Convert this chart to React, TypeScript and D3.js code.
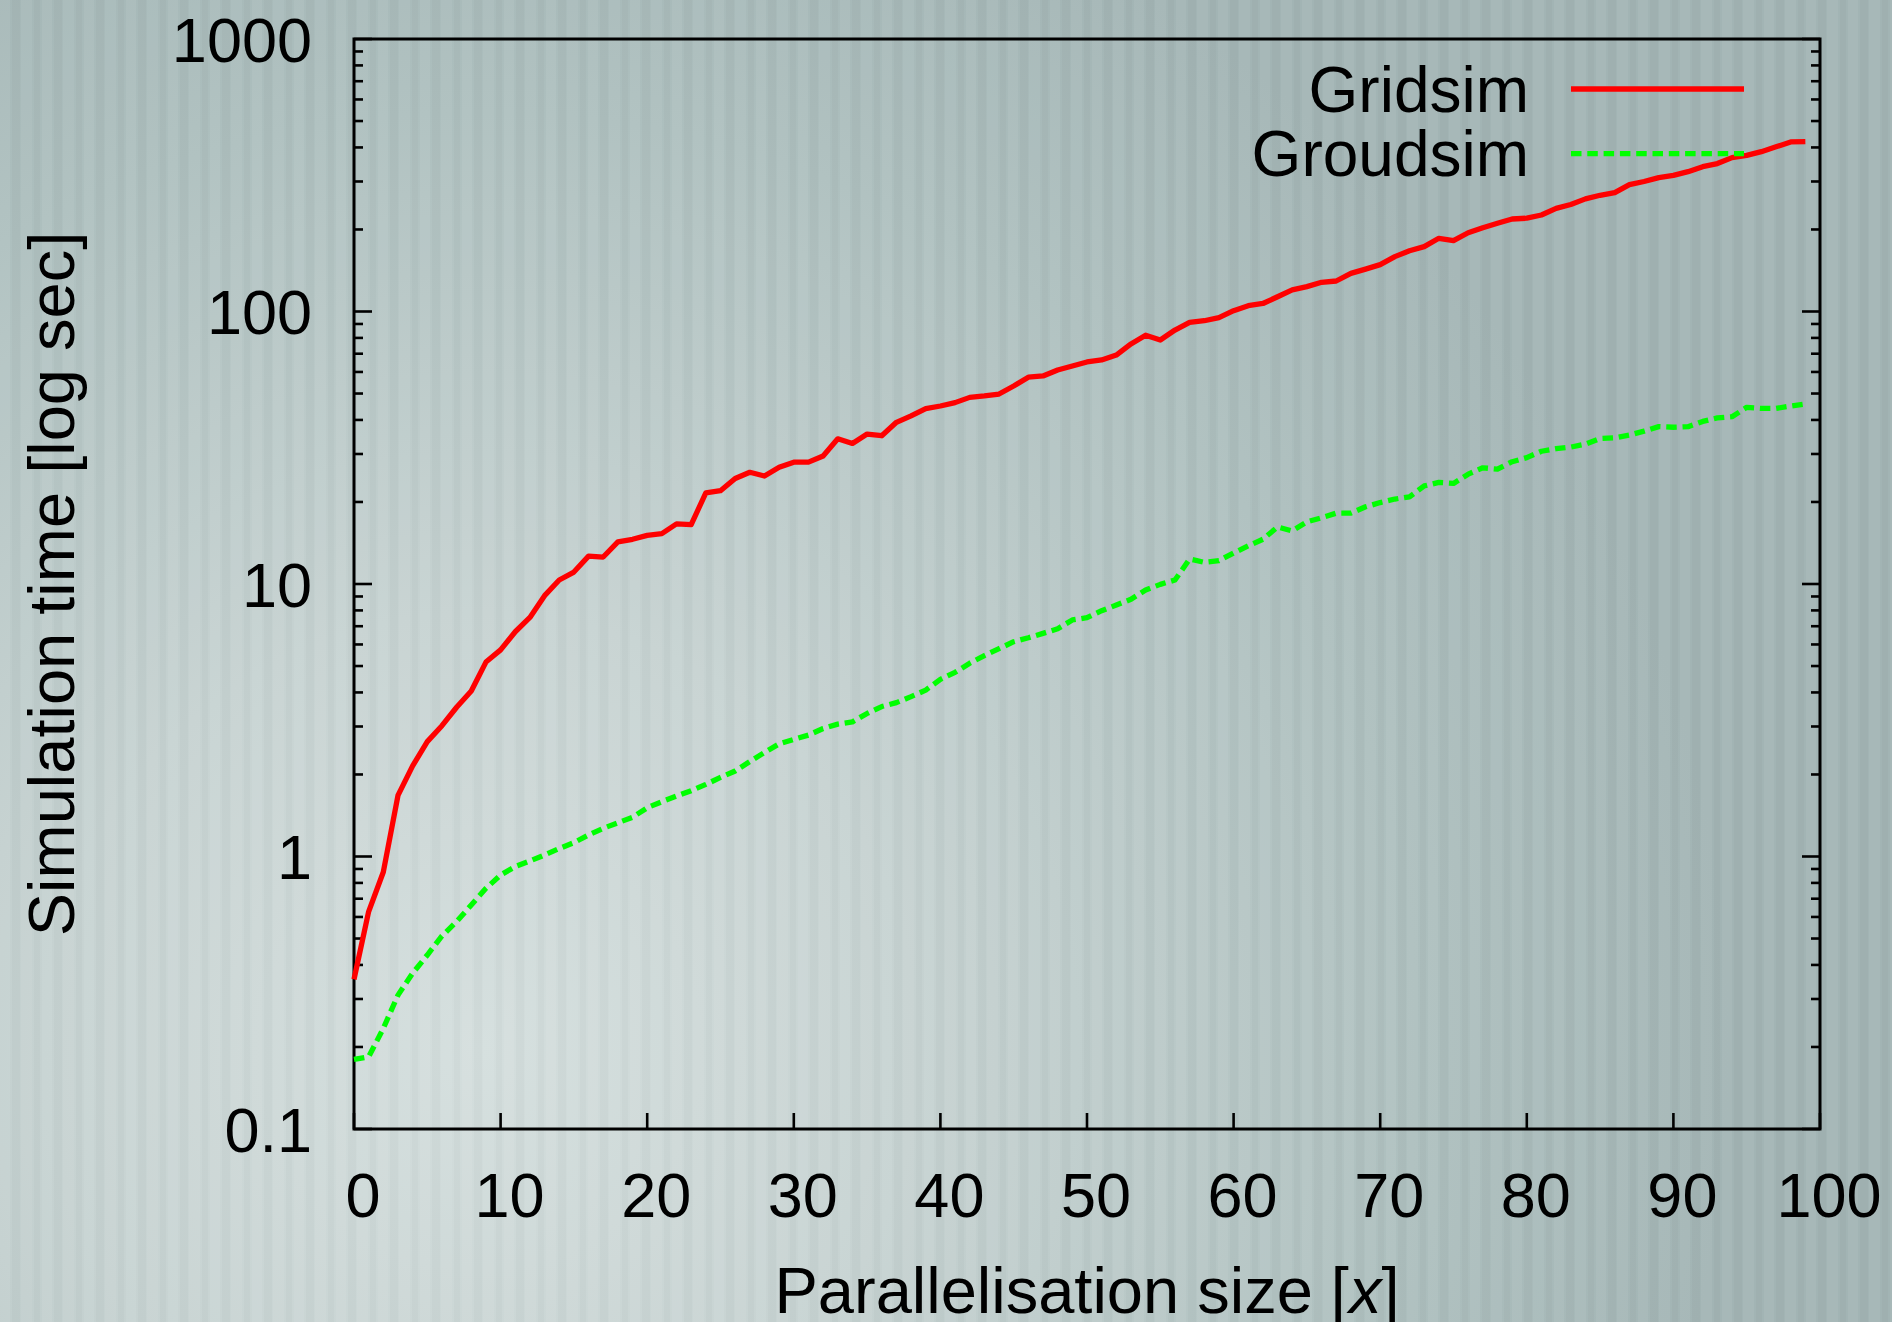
import React from 'react';
import * as d3 from 'd3';

const W = 1892;
const H = 1322;

// x = parallelisation size 0..99
const sizes = d3.range(0, 100);

const gridsim = [
    0.354, 0.628, 0.877, 1.676, 2.15, 2.64, 3.02, 3.53, 4.05, 5.17,
    5.73, 6.68, 7.54, 9.06, 10.34, 11.06, 12.66, 12.56, 14.28, 14.59,
    15.08, 15.31, 16.62, 16.52, 21.6, 22.0, 24.4, 25.7, 24.9, 26.8,
    28.0, 28.0, 29.5, 34.1, 32.8, 35.5, 35.0, 39.2, 41.4, 44.0,
    45.0, 46.3, 48.4, 49.0, 49.8, 53.3, 57.4, 58.0, 61.0, 63.1,
    65.3, 66.4, 69.2, 76.0, 81.8, 78.6, 85.5, 91.2, 92.5, 95.0,
    100.7, 105, 107, 113.3, 120, 123.4, 128, 129.4, 138, 143,
    148.6, 159, 167, 173, 185.6, 182, 194.5, 203, 210.7, 218.5,
    220, 226, 239, 247, 259, 267, 273, 292, 300, 310,
    316, 326, 340, 349, 367, 374, 386, 402, 419, 420,
];

const groudsim = [
    0.18, 0.184, 0.234, 0.31, 0.373, 0.435, 0.511, 0.577, 0.664, 0.764,
    0.855, 0.918, 0.963, 1.013, 1.07, 1.124, 1.2, 1.269, 1.33, 1.393,
    1.51, 1.589, 1.667, 1.744, 1.84, 1.95, 2.06, 2.23, 2.41, 2.59,
    2.69, 2.79, 2.95, 3.06, 3.12, 3.35, 3.55, 3.67, 3.86, 4.08,
    4.47, 4.74, 5.12, 5.46, 5.79, 6.14, 6.35, 6.59, 6.85, 7.38,
    7.52, 7.98, 8.37, 8.79, 9.51, 9.97, 10.34, 12.35, 12.01, 12.18,
    13.0, 13.8, 14.6, 16.2, 15.65, 16.9, 17.5, 18.2, 18.2, 19.2,
    19.9, 20.5, 20.9, 22.9, 23.6, 23.4, 25.3, 26.7, 26.4, 28.1,
    29.1, 30.7, 31.4, 31.8, 32.6, 34.2, 34.4, 35.2, 36.4, 37.8,
    37.6, 37.8, 39.5, 40.7, 41.1, 44.5, 44.1, 44.1, 45.0, 45.8,
];

const xTicks = [0, 10, 20, 30, 40, 50, 60, 70, 80, 90, 100];
const yTicks = [0.1, 1, 10, 100, 1000];
const yTickLabels = ['0.1', '1', '10', '100', '1000'];

const series = [
    { name: 'Gridsim', values: gridsim, color: '#ff0000', dash: '' },
    { name: 'Groudsim', values: groudsim, color: '#00ff00', dash: '10.5 5.8' },
];

const FONT = "'Liberation Sans', Arial, Helvetica, sans-serif";

const App = () => {
    const left = 354;
    const right = 1820;
    const top = 39;
    const bottom = 1129;

    const x = d3.scaleLinear([0, 100], [left, right]);
    const y = d3.scaleLog([0.1, 1000], [bottom, top]);

    // minor log ticks 2..9 in every decade
    const minor: number[] = [];
    for (let e = -1; e < 3; e++) {
        for (let m = 2; m <= 9; m++) minor.push(m * Math.pow(10, e));
    }

    const line = d3
        .line<number>()
        .x((_, i) => x(sizes[i]))
        .y(d => y(d));

    return (
        <svg
            width={W}
            height={H}
            style={{ position: 'absolute', left: 0, top: 0, display: 'block' }}
            fontFamily={FONT}
        >
            <defs>
                <radialGradient
                    id='glow'
                    gradientUnits='userSpaceOnUse'
                    cx={480}
                    cy={1050}
                    r={1250}
                >
                    <stop offset='0' stopColor='#d4dedd' />
                    <stop offset='0.35' stopColor='#c6d2d1' />
                    <stop offset='0.75' stopColor='#adbfbe' />
                    <stop offset='1' stopColor='#a2b4b4' />
                </radialGradient>
                <pattern
                    id='stripes'
                    patternUnits='userSpaceOnUse'
                    width={42}
                    height={H}
                >
                    <rect x={0} y={0} width={10} height={H} fill='#ffffff' opacity={0.06} />
                    <rect x={12} y={0} width={8} height={H} fill='#000000' opacity={0.018} />
                    <rect x={21} y={0} width={11} height={H} fill='#ffffff' opacity={0.05} />
                    <rect x={34} y={0} width={6} height={H} fill='#000000' opacity={0.02} />
                </pattern>
            </defs>

            <rect x={0} y={0} width={W} height={H} fill='url(#glow)' />
            <rect x={0} y={0} width={W} height={H} fill='url(#stripes)' />

            {/* left + right log axis ticks */}
            <g stroke='#000' strokeWidth={2.6}>
                {yTicks.map(t => (
                    <g key={'M' + t}>
                        <line x1={left} x2={left + 18} y1={y(t)} y2={y(t)} />
                        <line x1={right} x2={right - 18} y1={y(t)} y2={y(t)} />
                    </g>
                ))}
                {minor.map(t => (
                    <g key={'m' + t}>
                        <line x1={left} x2={left + 9} y1={y(t)} y2={y(t)} />
                        <line x1={right} x2={right - 9} y1={y(t)} y2={y(t)} />
                    </g>
                ))}
                {xTicks.map(t => (
                    <line key={'x' + t} x1={x(t)} x2={x(t)} y1={bottom} y2={bottom - 16} />
                ))}
            </g>

            <rect
                x={left}
                y={top}
                width={right - left}
                height={bottom - top}
                fill='none'
                stroke='#000'
                strokeWidth={3}
            />

            {/* tick labels */}
            <g fontSize={63} fill='#000'>
                {yTicks.map((t, i) => (
                    <text key={t} x={312} y={y(t) + 22.5} textAnchor='end'>
                        {yTickLabels[i]}
                    </text>
                ))}
                {xTicks.map(t => (
                    <text key={t} x={x(t) + 9} y={1217} textAnchor='middle'>
                        {t}
                    </text>
                ))}
            </g>

            {/* axis titles */}
            <text x={1087} y={1313} fontSize={65} textAnchor='middle'>
                Parallelisation size [<tspan fontStyle='italic'>x</tspan>]
            </text>
            <text
                transform={`translate(73.5,584) rotate(-90)`}
                fontSize={65}
                textAnchor='middle'
            >
                Simulation time [log sec]
            </text>

            {/* data */}
            {series.map(s => (
                <path
                    key={s.name}
                    d={line(s.values) || ''}
                    fill='none'
                    stroke={s.color}
                    strokeWidth={5.3}
                    strokeLinejoin='round'
                    strokeDasharray={s.dash || undefined}
                />
            ))}

            {/* legend */}
            {series.map((s, i) => {
                const ly = 89 + i * 64.7;
                return (
                    <g key={s.name}>
                        <text x={1529} y={ly + 22.5} fontSize={64} textAnchor='end'>
                            {s.name}
                        </text>
                        <line
                            x1={1571}
                            x2={1744}
                            y1={ly}
                            y2={ly}
                            stroke={s.color}
                            strokeWidth={5.3}
                            strokeDasharray={s.dash || undefined}
                        />
                    </g>
                );
            })}
        </svg>
    );
};

export default App;
